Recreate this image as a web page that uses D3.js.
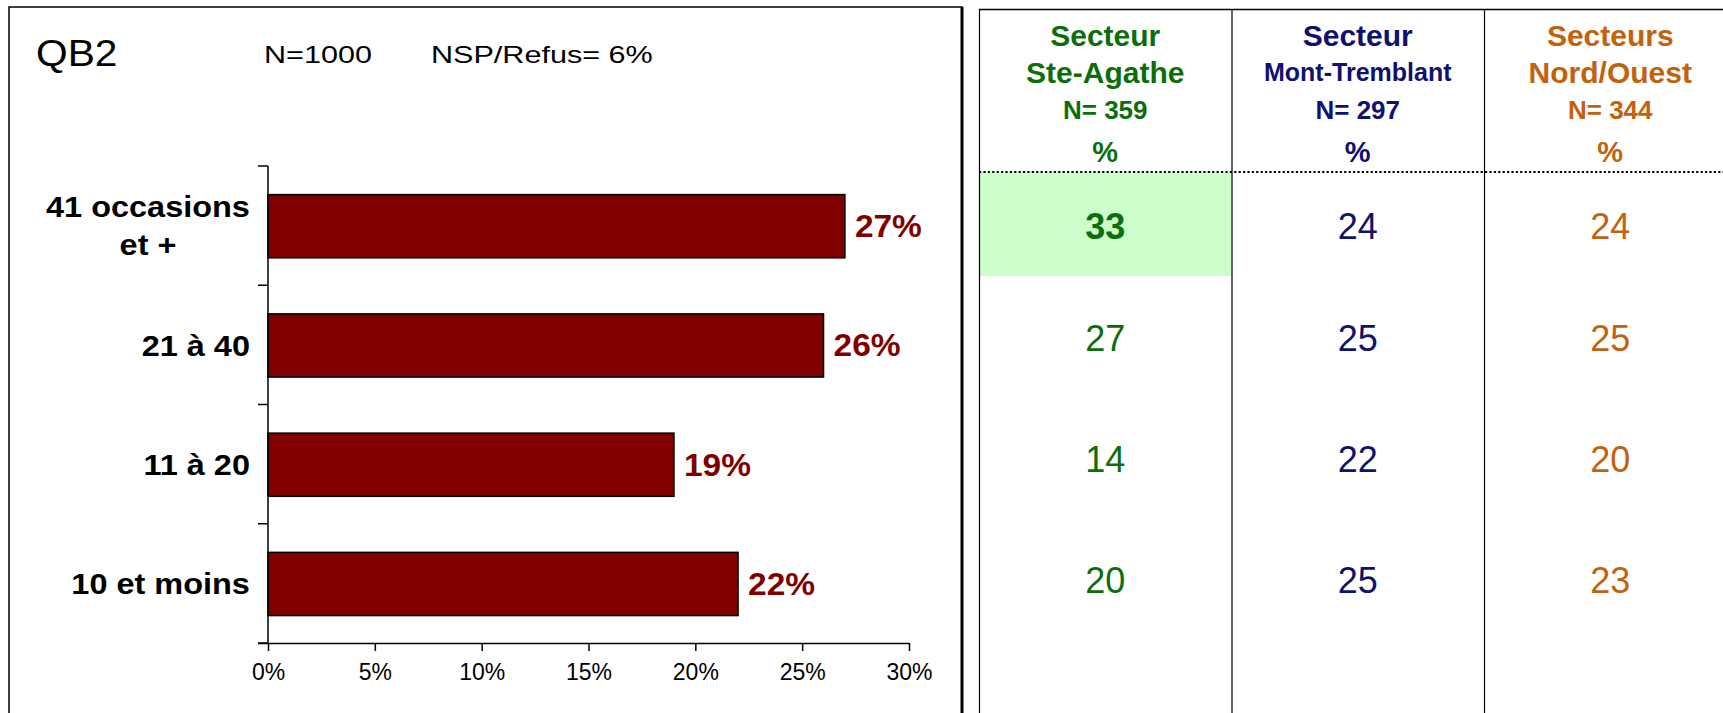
<!DOCTYPE html>
<html lang="fr">
<head>
<meta charset="UTF-8">
<title>QB2 - occasions</title>
<script src="https://d3js.org/d3.v7.min.js"></script>
<style>
  html, body { margin: 0; padding: 0; background: #fff; }
  svg { display: block; font-family: "Liberation Sans", Arial, sans-serif; }
</style>
</head>
<body>
<div id="chart"></div>
<script>
// data
const categories = ["41 occasions et +", "21 à 40", "11 à 20", "10 et moins"];
const categoryLines = [["41 occasions", "et +"], ["21 à 40"], ["11 à 20"], ["10 et moins"]];
const totals = [0.27, 0.26, 0.19, 0.22];
const xTicks = [0, 0.05, 0.10, 0.15, 0.20, 0.25, 0.30];

const sectorTitles = [["Secteur", "Ste-Agathe"], ["Secteur", "Mont-Tremblant"], ["Secteurs", "Nord/Ouest"]];
const sectorN = [359, 297, 344];
const steAgathe = [33, 27, 14, 20];
const montTremblant = [24, 25, 22, 25];
const nordOuest = [24, 25, 20, 23];
const sectorColors = ["#0b6e0b", "#101070", "#c2620e"];
const highlightCell = { col: 0, row: 0 };

const width = 1723, height = 713;
const svg = d3.select("#chart").append("svg")
  .attr("width", width).attr("height", height);

// stretched text helper (the left panel text is wide)
function place(sel, x, y, k) {
  return sel.attr("transform", `translate(${x},${y}) scale(${k},1)`);
}

// ---- left panel ----
svg.append("rect")
  .attr("x", 9).attr("y", 7)
  .attr("width", 953).attr("height", 740)
  .attr("fill", "none").attr("stroke", "#000").attr("stroke-width", 1.5);
svg.append("line")
  .attr("x1", 962).attr("x2", 962).attr("y1", 7).attr("y2", height)
  .attr("stroke", "#000").attr("stroke-width", 3);

place(svg.append("text"), 36, 53, 1.1)
  .attr("dy", "0.35em").attr("font-size", 37).text("QB2");
place(svg.append("text"), 264, 55, 1.33)
  .attr("dy", "0.35em").attr("font-size", 23).text("N=1000");
place(svg.append("text"), 431, 55, 1.33)
  .attr("dy", "0.35em").attr("font-size", 23).text("NSP/Refus= 6%");

const x = d3.scaleLinear().domain([0, 0.30]).range([268, 909]);
const y = d3.scaleBand().domain(categories).range([166, 643]).padding(0);

const plot = svg.append("g");

plot.selectAll("rect.bar")
  .data(categories)
  .join("rect")
  .attr("class", "bar")
  .attr("x", x(0))
  .attr("y", d => y(d) + y.bandwidth() * 0.24)
  .attr("width", (d, i) => x(totals[i]) - x(0))
  .attr("height", y.bandwidth() * 0.53)
  .attr("fill", "#800000")
  .attr("stroke", "#000")
  .attr("stroke-width", 1.5);

plot.selectAll("g.val")
  .data(categories)
  .join("g")
  .attr("class", "val")
  .attr("transform", (d, i) => `translate(${x(totals[i]) + 10},${y(d) + y.bandwidth() * 0.505}) scale(1.08,1)`)
  .append("text")
  .attr("dy", "0.35em")
  .attr("font-size", 31)
  .attr("font-weight", "bold")
  .attr("fill", "#800000")
  .text((d, i) => d3.format(".0%")(totals[i]));

// x axis
const xAxis = plot.append("g")
  .attr("transform", `translate(0,${y.range()[1]})`)
  .call(d3.axisBottom(x).tickValues(xTicks).tickFormat(d3.format(".0%")).tickSize(8).tickSizeOuter(0).tickPadding(13));
xAxis.select(".domain").attr("stroke", "#000").attr("stroke-width", 1.5)
  .attr("d", `M${x(0) - 10},0.5H${x(0.30)}`);
xAxis.selectAll(".tick line").attr("stroke", "#000").attr("stroke-width", 1.5);
xAxis.selectAll(".tick text").attr("font-size", 23).attr("fill", "#000")
  .attr("font-family", "'Liberation Sans', Arial, sans-serif");

// y axis with ticks between categories
const yEdges = categories.map(c => y(c)).concat([y.range()[1]]);
plot.append("line")
  .attr("x1", x(0)).attr("x2", x(0))
  .attr("y1", y.range()[0]).attr("y2", y.range()[1])
  .attr("stroke", "#000").attr("stroke-width", 1.5);
plot.selectAll("line.ytick")
  .data(yEdges)
  .join("line")
  .attr("class", "ytick")
  .attr("x1", x(0) - 10).attr("x2", x(0))
  .attr("y1", d => d).attr("y2", d => d)
  .attr("stroke", "#000").attr("stroke-width", 1.5);

// category labels: block right aligned, lines centred
const labelRight = 250, labelK = 1.12, lineH = 38;
categories.forEach((c, i) => {
  const lines = categoryLines[i];
  const cy = y(c) + y.bandwidth() * 0.505;
  const g = plot.append("g");
  const texts = g.selectAll("text").data(lines).join("text")
    .attr("font-size", 29).attr("font-weight", "bold").attr("fill", "#000")
    .attr("text-anchor", "middle")
    .attr("dy", "0.35em")
    .attr("y", (d, j) => (j - (lines.length - 1) / 2) * lineH)
    .text(d => d);
  const maxW = d3.max(texts.nodes(), n => n.getComputedTextLength()) * labelK;
  place(g, labelRight - maxW / 2, cy, labelK);
});

// ---- right table ----
const tableLeft = 979, colW = 252.5;
const cols = d3.scaleBand().domain(d3.range(3)).range([tableLeft, tableLeft + colW * 3]);
const headerY = 172;
const rowY = d3.scaleLinear().domain([0, 1, 3]).range([226, 338, 580]);
const series = [steAgathe, montTremblant, nordOuest];

const table = svg.append("g");

table.append("rect")
  .attr("x", cols(highlightCell.col))
  .attr("y", headerY)
  .attr("width", cols.bandwidth())
  .attr("height", rowY(highlightCell.row) + 50 - headerY)
  .attr("fill", "#ccffcc");

table.append("line")
  .attr("x1", tableLeft).attr("x2", width)
  .attr("y1", 9.5).attr("y2", 9.5)
  .attr("stroke", "#000").attr("stroke-width", 1.3);

table.selectAll("line.vcol")
  .data(d3.range(3))
  .join("line")
  .attr("class", "vcol")
  .attr("x1", d => cols(d) + 0.5).attr("x2", d => cols(d) + 0.5)
  .attr("y1", 9).attr("y2", height)
  .attr("stroke", "#000").attr("stroke-width", 1.2);

table.append("line")
  .attr("x1", tableLeft).attr("x2", width)
  .attr("y1", headerY).attr("y2", headerY)
  .attr("stroke", "#000").attr("stroke-width", 2.2)
  .attr("stroke-dasharray", "2.2,2.2");

const titleSizes = [[30, 30], [30, 25], [30, 30]];
const titleY = [35, 72];
d3.range(3).forEach(ci => {
  const cx = cols(ci) + cols.bandwidth() / 2;
  const g = table.append("g")
    .attr("fill", sectorColors[ci])
    .attr("font-weight", "bold")
    .attr("text-anchor", "middle");
  sectorTitles[ci].forEach((t, j) => {
    g.append("text").attr("x", cx).attr("y", titleY[j]).attr("dy", "0.35em")
      .attr("font-size", titleSizes[ci][j]).text(t);
  });
  g.append("text").attr("x", cx).attr("y", 110).attr("dy", "0.35em")
    .attr("font-size", 26).text("N= " + sectorN[ci]);
  g.append("text").attr("x", cx).attr("y", 152).attr("dy", "0.35em")
    .attr("font-size", 29).text("%");

  table.selectAll(null)
    .data(series[ci])
    .join("text")
    .attr("x", cx)
    .attr("y", (d, ri) => rowY(ri))
    .attr("dy", "0.35em")
    .attr("text-anchor", "middle")
    .attr("font-size", 36)
    .attr("font-weight", (d, ri) => (ci === highlightCell.col && ri === highlightCell.row) ? "bold" : "normal")
    .attr("fill", sectorColors[ci])
    .text(d => d);
});
</script>
</body>
</html>
